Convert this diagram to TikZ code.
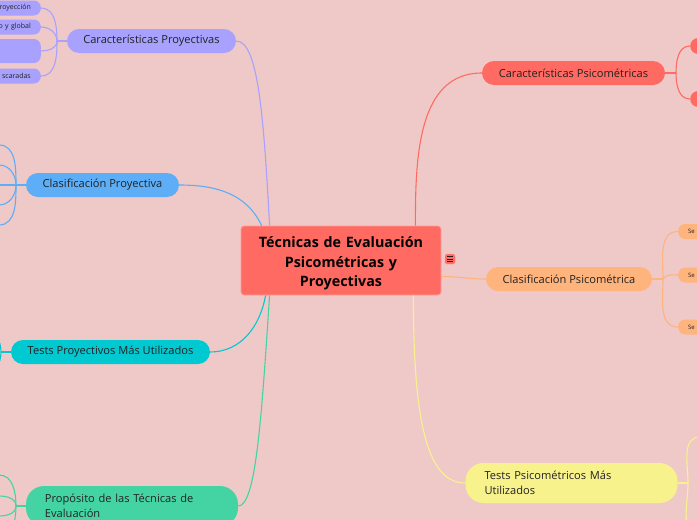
\documentclass[tikz,border=0pt]{standalone}
\usepackage{fontspec}
\setmainfont{Open Sans}
\usetikzlibrary{positioning}
\definecolor{Fondo}{HTML}{EFC9C8}
\definecolor{Raiz}{HTML}{FF6A62}
\definecolor{Lila}{HTML}{A8A1FE}
\definecolor{Celeste}{HTML}{5DAEF6}
\definecolor{Turq}{HTML}{00C9D1}
\definecolor{Verde}{HTML}{44D4A4}
\definecolor{Durazno}{HTML}{FFB37D}
\definecolor{Amarillo}{HTML}{F8F28C}
\definecolor{Tinta}{HTML}{222222}

\begin{document}
\begin{tikzpicture}[x=1pt,y=-1pt,
    raiz/.style={fill=Raiz,draw=white!35!Raiz,line width=0.8pt,rounded corners=3pt,minimum width=200pt,minimum height=69pt,text width=190pt,text height=17pt,align=center,text=black,font=\bfseries\fontsize{14.3}{19.5}\selectfont},
    rama/.style={rounded corners=12pt,minimum height=24pt,inner sep=0pt,text=Tinta,font=\fontsize{11.1}{14.5}\selectfont},
    rama2/.style={rama,rounded corners=18pt,minimum height=40pt,text width=174pt,align=left,inner xsep=19pt},
    hoja/.style={rounded corners=7pt,minimum height=15pt,inner ysep=0pt,text=Tinta,font=\fontsize{7}{8}\selectfont},
    nota/.style={minimum size=10pt,inner sep=0pt,fill=Raiz,draw=white!30!Raiz,rounded corners=1.5pt,
      path picture={\foreach \k in {-2.3,0,2.3}{\draw[line width=0.7pt,Tinta] ([xshift=-2.8pt,yshift=\k pt]path picture bounding box.center) -- ([xshift=2.8pt,yshift=\k pt]path picture bounding box.center);}}},
    enlace/.style={line width=1.1pt}]
  \useasboundingbox (0,0) rectangle (697,520);
  \fill[Fondo] (0,0) rectangle (697,520);
  \clip (0,0) rectangle (697,520);

  % tema central
  \node[raiz] (tema) at (341,260.5) {Técnicas de Evaluación\\Psicométricas y\\Proyectivas};
  \node[nota] (icono) at (450,259) {};
  \coordinate (tN1) at ([xshift=21pt]tema.north west);
  \coordinate (tN2) at ([xshift=29pt]tema.north west);
  \coordinate (tN3) at ([xshift=-26pt]tema.north east);
  \coordinate (tS1) at ([xshift=25pt]tema.south west);
  \coordinate (tS2) at ([xshift=29pt]tema.south west);
  \coordinate (tS3) at ([xshift=-28pt]tema.south east);
  \coordinate (tE) at ([yshift=-16pt]tema.east);

  % ramas
  \node[rama,fill=Lila,minimum width=169pt] (cproy) at (151.5,41) {Características Proyectivas};
  \node[rama,fill=Celeste,minimum width=153pt] (clproy) at (102.5,185) {Clasificación Proyectiva};
  \node[rama,fill=Turq,minimum width=199pt] (tproy) at (110.5,352) {Tests Proyectivos Más Utilizados};
  \node[rama2,fill=Verde] (prop) at (132,506) {Propósito de las Técnicas de\\Evaluación};
  \node[rama,fill=Raiz,minimum width=183pt] (cpsi) at (573.5,73) {Características Psicométricas};
  \node[rama,fill=Durazno,minimum width=166pt] (clpsi) at (569,279) {Clasificación Psicométrica};
  \node[rama2,fill=Amarillo] (tpsi) at (571.5,483) {Tests Psicométricos Más\\Utilizados};

  \draw[enlace,Lila] (cproy.east) .. controls +(22,0) and +(-6,-110) .. (tN2);
  \draw[enlace,Celeste] (clproy.east) to[out=0,in=115] (tN1);
  \draw[enlace,Turq] (tproy.east) to[out=0,in=-100] (tS1);
  \draw[enlace,Verde] (prop.east) .. controls +(18,0) and +(-8,120) .. (tS2);
  \draw[enlace,Raiz] (tN3) to[out=90,in=180] (cpsi.west);
  \draw[enlace,Durazno] (tE) to[out=0,in=180] (clpsi.west);
  \draw[enlace,Amarillo] (tS3) .. controls +(0,120) and +(-40,0) .. (tpsi.west);

  % hojas de Características Proyectivas
  \coordinate (jcp) at (57,41);
  \node[hoja,fill=Lila,anchor=east,text width=60pt,align=right,inner xsep=10pt] (cp1) at (41,8) {royección};
  \node[hoja,fill=Lila,anchor=east,text width=60pt,align=right,inner xsep=10pt] (cp2) at (41,27) {o y global};
  \node[hoja,fill=Lila,anchor=east,text width=60pt,minimum height=24pt,inner xsep=10pt] (cp3) at (41,51) {};
  \node[hoja,fill=Lila,anchor=east,text width=60pt,align=right,inner xsep=10pt] (cp4) at (41,76) {scaradas};
  \draw[enlace,Lila] (cproy.west) -- (jcp);
  \draw[enlace,Lila] (jcp) to[out=90,in=0] (cp1.east);
  \draw[enlace,Lila] (jcp) to[out=90,in=0] (cp2.east);
  \draw[enlace,Lila] (jcp) to[out=-90,in=0] (cp3.east);
  \draw[enlace,Lila] (jcp) to[out=-90,in=0] (cp4.east);

  % hojas de Clasificación Proyectiva
  \coordinate (jclp) at (16,185);
  \coordinate (clp1) at (-1,145);
  \coordinate (clp2) at (-1,165);
  \coordinate (clp3) at (-1,185);
  \coordinate (clp4) at (-1,205);
  \coordinate (clp5) at (-1,225);
  \draw[enlace,Celeste] (clproy.west) -- (jclp);
  \draw[enlace,Celeste] (jclp) to[out=90,in=0] (clp1);
  \draw[enlace,Celeste] (jclp) to[out=90,in=0] (clp2);
  \draw[enlace,Celeste] (jclp) -- (clp3);
  \draw[enlace,Celeste] (jclp) to[out=-90,in=0] (clp4);
  \draw[enlace,Celeste] (jclp) to[out=-90,in=0] (clp5);

  % hojas de Tests Proyectivos
  \coordinate (jtp) at (1,352);
  \coordinate (tp1) at (-15,330);
  \coordinate (tp2) at (-15,374);
  \draw[enlace,Turq] (tproy.west) -- (jtp);
  \draw[enlace,Turq] (jtp) to[out=90,in=0] (tp1);
  \draw[enlace,Turq] (jtp) to[out=-90,in=0] (tp2);

  % hojas de Propósito
  \coordinate (jpr) at (16,506);
  \coordinate (pr1) at (-1,475);
  \coordinate (pr2) at (-1,496);
  \coordinate (pr3) at (-1,516);
  \coordinate (pr4) at (-1,537);
  \draw[enlace,Verde] (prop.west) -- (jpr);
  \draw[enlace,Verde] (jpr) to[out=90,in=0] (pr1);
  \draw[enlace,Verde] (jpr) to[out=90,in=0] (pr2);
  \draw[enlace,Verde] (jpr) to[out=-90,in=0] (pr3);
  \draw[enlace,Verde] (jpr) to[out=-90,in=0] (pr4);

  % hojas de Características Psicométricas
  \coordinate (jcs) at (676,73);
  \node[hoja,fill=Raiz,anchor=west,minimum width=40pt,minimum height=16pt,rounded corners=8pt] (cs1) at (690,46) {};
  \node[hoja,fill=Raiz,anchor=west,minimum width=40pt,minimum height=16pt,rounded corners=8pt] (cs2) at (690,99) {};
  \draw[enlace,Raiz] (cpsi.east) -- (jcs);
  \draw[enlace,Raiz] (jcs) to[out=90,in=180] (cs1.west);
  \draw[enlace,Raiz] (jcs) to[out=-90,in=180] (cs2.west);

  % hojas de Clasificación Psicométrica
  \coordinate (jcl) at (663,279);
  \node[hoja,fill=Durazno,anchor=west,text width=40pt,align=left,inner xsep=10pt,font=\fontsize{6}{8}\selectfont] (cl1) at (678,231.5) {Se};
  \node[hoja,fill=Durazno,anchor=west,text width=40pt,align=left,inner xsep=10pt,font=\fontsize{6}{8}\selectfont] (cl2) at (678,275) {Se};
  \node[hoja,fill=Durazno,anchor=west,text width=40pt,align=left,inner xsep=10pt,font=\fontsize{6}{8}\selectfont] (cl3) at (678,327) {Se};
  \draw[enlace,Durazno] (clpsi.east) -- (jcl);
  \draw[enlace,Durazno] (jcl) to[out=90,in=180] (cl1.west);
  \draw[enlace,Durazno] (jcl) to[out=60,in=180] (cl2.west);
  \draw[enlace,Durazno] (jcl) to[out=-90,in=180] (cl3.west);

  % hojas de Tests Psicométricos
  \coordinate (jts) at (688,483);
  \coordinate (ts1) at (700,437);
  \coordinate (ts2) at (700,535);
  \draw[enlace,Amarillo] (tpsi.east) -- (jts);
  \draw[enlace,Amarillo] (jts) to[out=90,in=180] (ts1);
  \draw[enlace,Amarillo] (jts) to[out=-90,in=180] (ts2);
\end{tikzpicture}
\end{document}
